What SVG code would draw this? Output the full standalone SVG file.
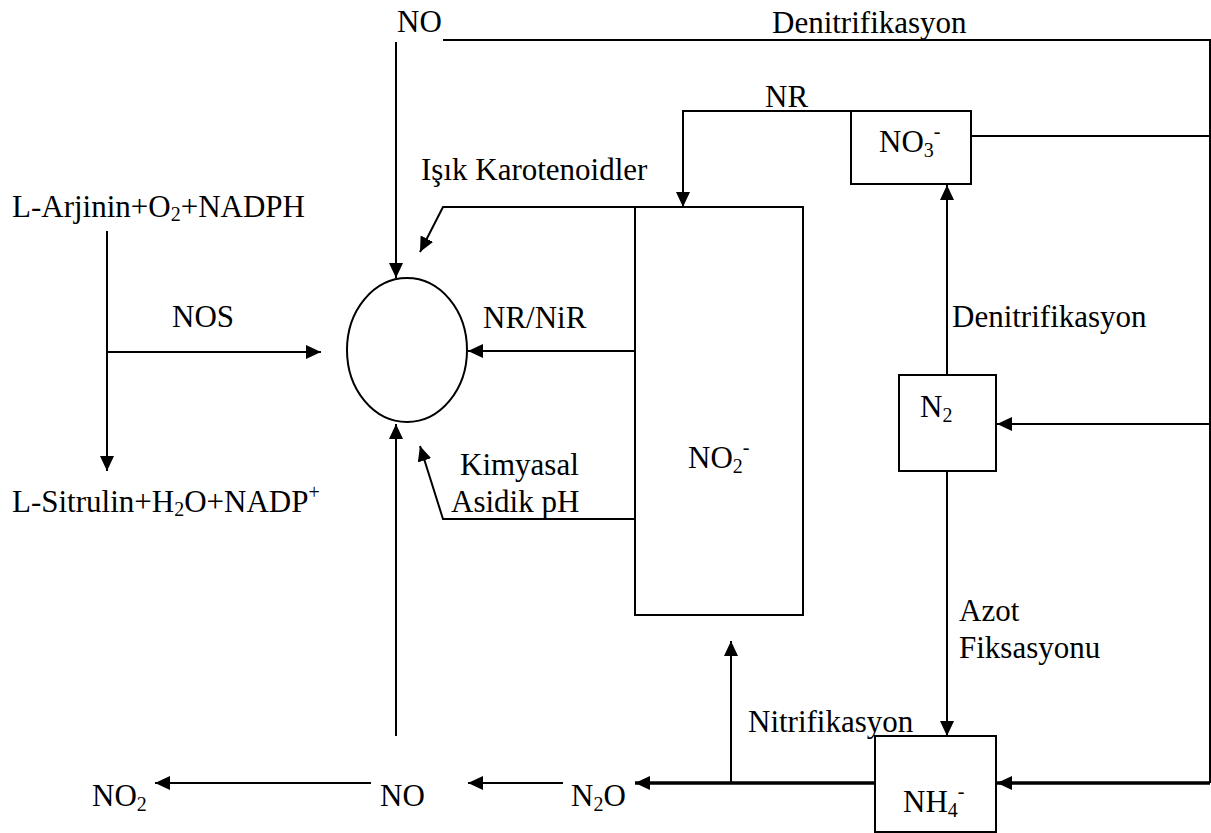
<svg xmlns="http://www.w3.org/2000/svg" width="1211" height="833" viewBox="0 0 1211 833">
<style>
text{font-family:"Liberation Serif","Times New Roman",serif;font-size:31px;fill:#000}
.sub{font-size:20px}
.box{fill:#fff;stroke:#000;stroke-width:2}
.c{fill:none;stroke:#000;stroke-width:2}
.thick{stroke-width:3.5}
</style>
<defs>
<marker id="ah" markerUnits="userSpaceOnUse" markerWidth="16" markerHeight="14" refX="15" refY="7" orient="auto">
<path d="M0,0 L15,7 L0,14 z" fill="#000"/>
</marker>
</defs>
<rect width="1211" height="833" fill="#fff"/>
<g id="connectors">
<path class="c" d="M396,42 V278" marker-end="url(#ah)"/>
<path class="c" d="M443,40 H1210 V783"/>
<path class="c" d="M971,136 H1210"/>
<path class="c" d="M1210,424 H997" marker-end="url(#ah)"/>
<path class="c thick" d="M1210,783 H997" marker-end="url(#ah)"/>
<path class="c" d="M851,111 H683 V207" marker-end="url(#ah)"/>
<path class="c" d="M635,207 H443 L420,252" marker-end="url(#ah)"/>
<path class="c" d="M635,351 H468" marker-end="url(#ah)"/>
<path class="c" d="M635,519 H443 L420,446" marker-end="url(#ah)"/>
<path class="c" d="M107,231 V471" marker-end="url(#ah)"/>
<path class="c" d="M107,352 H321" marker-end="url(#ah)"/>
<path class="c" d="M396,736 V424" marker-end="url(#ah)"/>
<path class="c" d="M947,375 V185" marker-end="url(#ah)"/>
<path class="c" d="M947,471 V736" marker-end="url(#ah)"/>
<path class="c thick" d="M875,783 H635" marker-end="url(#ah)"/>
<path class="c" d="M731,783 V641" marker-end="url(#ah)"/>
<path class="c" d="M563,783 H468" marker-end="url(#ah)"/>
<path class="c" d="M371,783 H155" marker-end="url(#ah)"/>
</g>
<g id="node-circle"><ellipse cx="407" cy="350" rx="60" ry="72" class="box"/></g>
<g id="node-no2box"><rect x="635" y="207" width="168" height="408" class="box"/>
<text x="688" y="468">NO<tspan class="sub" dy="5">2</tspan><tspan class="sub" dy="-19">-</tspan></text></g>
<g id="node-no3box"><rect x="851" y="111" width="120" height="73" class="box"/>
<text x="879" y="152">NO<tspan class="sub" dy="5">3</tspan><tspan class="sub" dy="-19">-</tspan></text></g>
<g id="node-n2box"><rect x="899" y="375" width="97" height="96" class="box"/>
<text x="920" y="417">N<tspan class="sub" dy="5">2</tspan></text></g>
<g id="node-nh4box"><rect x="875" y="736" width="121" height="96" class="box"/>
<text x="903" y="812">NH<tspan class="sub" dy="5">4</tspan><tspan class="sub" dy="-19">-</tspan></text></g>
<g id="node-no-top"><text x="397" y="32">NO</text></g>
<g id="label-denit-top"><text x="772" y="33">Denitrifikasyon</text></g>
<g id="label-nr"><text x="765" y="107">NR</text></g>
<g id="label-isik"><text x="421" y="180">Işık Karotenoidler</text></g>
<g id="node-arjinin"><text x="12" y="217">L-Arjinin+O<tspan class="sub" dy="4">2</tspan><tspan dy="-4">+NADPH</tspan></text></g>
<g id="label-nos"><text x="172" y="327">NOS</text></g>
<g id="label-nrnir"><text x="483" y="328">NR/NiR</text></g>
<g id="node-sitrulin"><text x="12" y="512">L-Sitrulin+H<tspan class="sub" dy="4">2</tspan><tspan dy="-4">O+NADP</tspan><tspan class="sub" dy="-13">+</tspan></text></g>
<g id="label-kimyasal"><text x="460" y="475">Kimyasal</text><text x="451" y="512">Asidik pH</text></g>
<g id="label-denit-right"><text x="952" y="327">Denitrifikasyon</text></g>
<g id="label-azot"><text x="959" y="621">Azot</text><text x="959" y="658">Fiksasyonu</text></g>
<g id="label-nitrif"><text x="748" y="732">Nitrifikasyon</text></g>
<g id="node-no2"><text x="92" y="806">NO<tspan class="sub" dy="5">2</tspan></text></g>
<g id="node-no-bottom"><text x="380" y="806">NO</text></g>
<g id="node-n2o"><text x="571" y="806">N<tspan class="sub" dy="5">2</tspan><tspan dy="-5">O</tspan></text></g>
</svg>
